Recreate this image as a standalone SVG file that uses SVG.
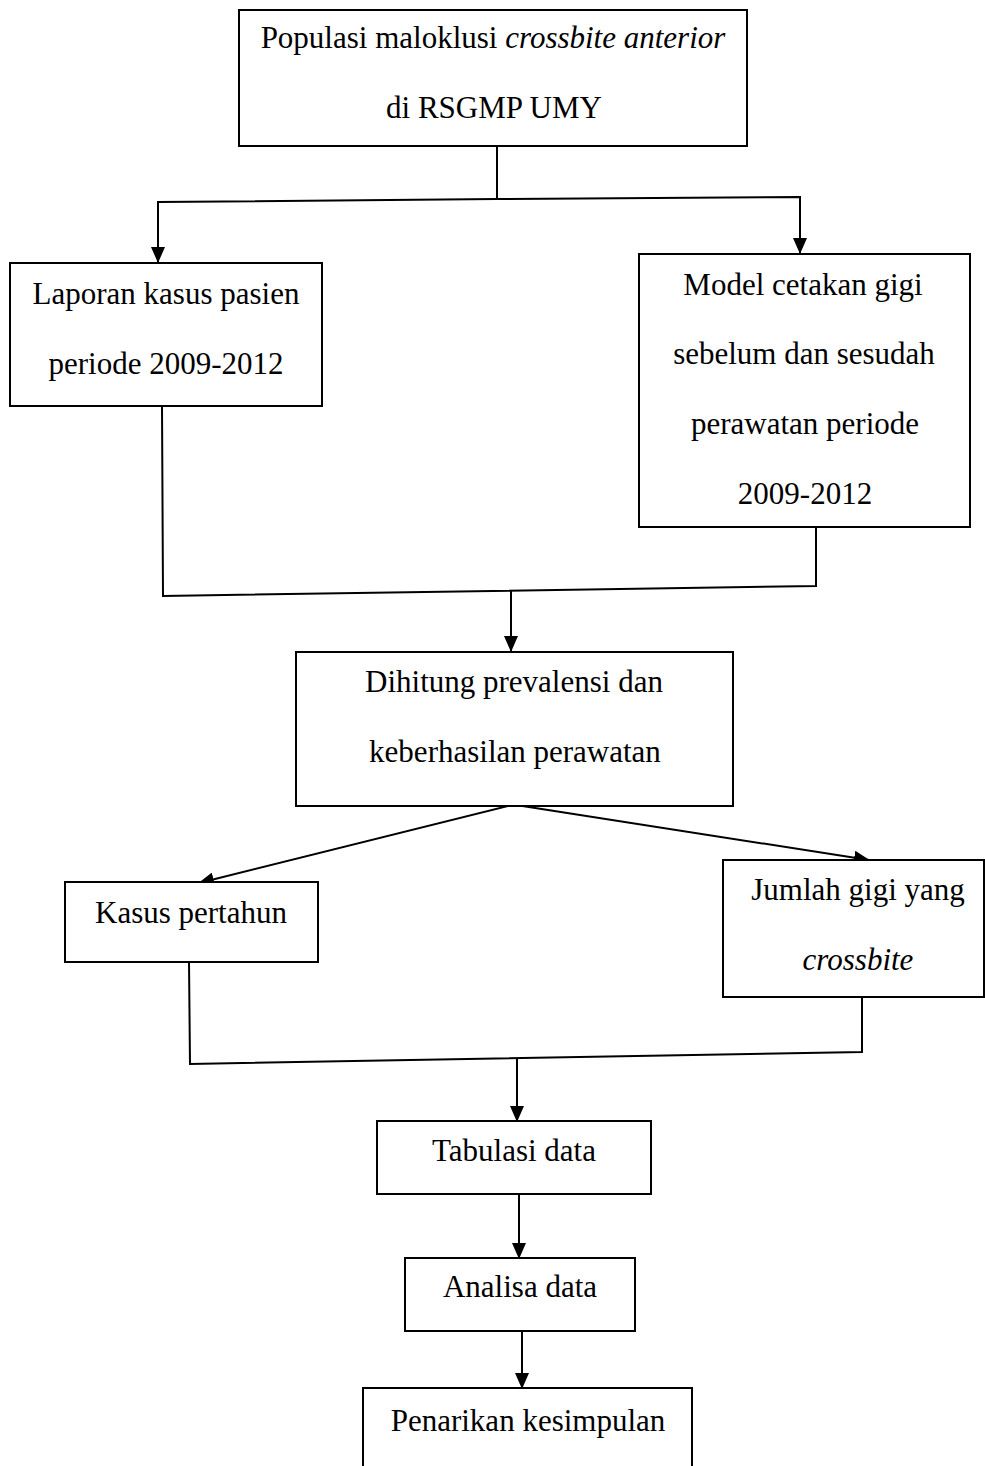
<svg xmlns="http://www.w3.org/2000/svg" width="985" height="1466" viewBox="0 0 985 1466">
<style>
.box{fill:#fff;stroke:#000;stroke-width:2}
.t{font-family:"Liberation Serif","Times New Roman",serif;font-size:31px;fill:#000;text-anchor:middle}
.i{font-style:italic}
.c{fill:none;stroke:#000;stroke-width:2}
</style>
<defs>
<marker id="ah" viewBox="0 0 16 14" refX="15" refY="7" markerWidth="16" markerHeight="14" orient="auto" markerUnits="userSpaceOnUse">
<path d="M0,0 L16,7 L0,14 z" fill="#000"/>
</marker>
</defs>
<rect width="985" height="1466" fill="#fff"/>
<g id="connectors">
<polyline class="c" points="497,146 497,199"/>
<polyline class="c" points="497,199 158,202 158,262" marker-end="url(#ah)"/>
<polyline class="c" points="497,199 800,197 800,253" marker-end="url(#ah)"/>
<polyline class="c" points="162,406 163,596 816,586 816,527"/>
<polyline class="c" points="511,591 511,651" marker-end="url(#ah)"/>
<line class="c" x1="512" y1="805" x2="199" y2="883" marker-end="url(#ah)"/>
<line class="c" x1="516" y1="805" x2="869" y2="860" marker-end="url(#ah)"/>
<polyline class="c" points="189,962 190,1064 862,1052 862,997"/>
<polyline class="c" points="517,1058 517,1121" marker-end="url(#ah)"/>
<polyline class="c" points="519,1194 519,1258" marker-end="url(#ah)"/>
<polyline class="c" points="522,1331 522,1388" marker-end="url(#ah)"/>
</g>
<g id="n1"><rect class="box" x="239" y="10" width="508" height="136"/>
<text class="t" x="493" y="48">Populasi maloklusi <tspan class="i">crossbite anterior</tspan></text>
<text class="t" x="494" y="118">di RSGMP UMY</text></g>
<g id="n2"><rect class="box" x="10" y="263" width="312" height="143"/>
<text class="t" x="166" y="304">Laporan kasus pasien</text>
<text class="t" x="166" y="374">periode 2009-2012</text></g>
<g id="n3"><rect class="box" x="639" y="254" width="331" height="273"/>
<text class="t" x="803" y="295">Model cetakan gigi</text>
<text class="t" x="804" y="364">sebelum dan sesudah</text>
<text class="t" x="805" y="434">perawatan periode</text>
<text class="t" x="805" y="504">2009-2012</text></g>
<g id="n4"><rect class="box" x="296" y="652" width="437" height="154"/>
<text class="t" x="514" y="692">Dihitung prevalensi dan</text>
<text class="t" x="515" y="762">keberhasilan perawatan</text></g>
<g id="n5"><rect class="box" x="65" y="882" width="253" height="80"/>
<text class="t" x="191" y="923">Kasus pertahun</text></g>
<g id="n6"><rect class="box" x="723" y="860" width="261" height="137"/>
<text class="t" x="858" y="900">Jumlah gigi yang</text>
<text class="t i" x="858" y="970">crossbite</text></g>
<g id="n7"><rect class="box" x="377" y="1121" width="274" height="73"/>
<text class="t" x="514" y="1161">Tabulasi data</text></g>
<g id="n8"><rect class="box" x="405" y="1258" width="230" height="73"/>
<text class="t" x="520" y="1297">Analisa data</text></g>
<g id="n9"><rect class="box" x="363" y="1388" width="329" height="82"/>
<text class="t" x="528" y="1431">Penarikan kesimpulan</text></g>
</svg>
